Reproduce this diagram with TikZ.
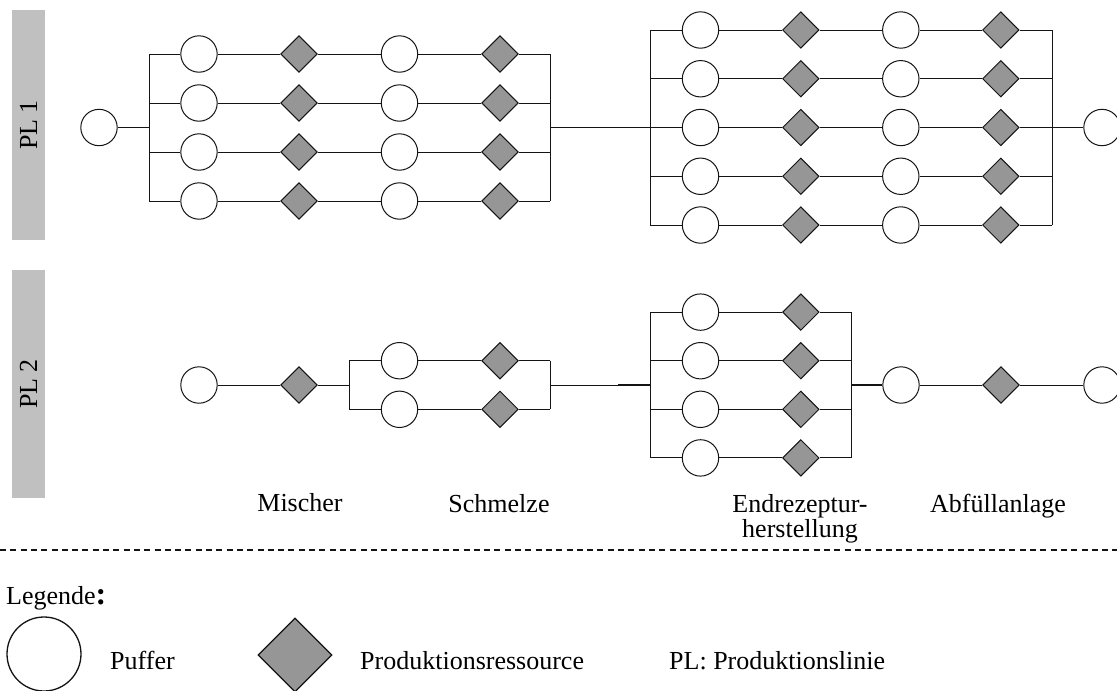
\documentclass[tikz,border=0pt]{standalone}
\usepackage{fontspec}
\setmainfont{Liberation Serif}
\usetikzlibrary{shapes.geometric}
\definecolor{barfill}{RGB}{192,192,192}
\definecolor{resfill}{RGB}{150,150,150}
\definecolor{edge}{RGB}{20,20,20}
\begin{document}
\begin{tikzpicture}[x=1pt,y=-1pt,
  puffer/.style={circle,draw=edge,line width=1pt,fill=white,minimum size=36.4pt,inner sep=0pt},
  ressource/.style={diamond,draw=edge,line width=1pt,fill=resfill,minimum size=36.6pt,inner sep=0pt},
  link/.style={draw=edge,line width=1pt},
  joint/.style={draw=edge,line width=1.8pt},
  lbl/.style={font=\fontsize{26}{25}\selectfont,inner sep=0pt},
  lane/.style={fill=barfill,draw=none,rotate=90,font=\fontsize{26}{25}\selectfont,
    minimum height=33pt,inner sep=0pt}]
\useasboundingbox (0,0) rectangle (1117,691);

% production line labels
\node[lane,minimum width=230pt] (pl1) at (28.5,125) {PL 1};
\node[lane,minimum width=228pt] (pl2) at (28.5,384) {PL 2};

% ---------------- PL 1 ----------------
\node[puffer] (p1in) at (99,127.5) {};
\coordinate (p1L) at (149,127.5);
\draw[joint] (p1in) -- (p1L);
\foreach \i/\y in {1/54,2/103,3/152,4/201} {
  \coordinate (p1Lb\i) at (149,\y);
  \node[puffer] (p1a\i) at (199,\y) {};
  \node[ressource] (p1b\i) at (299,\y) {};
  \node[puffer] (p1c\i) at (399.5,\y) {};
  \node[ressource] (p1d\i) at (500,\y) {};
  \coordinate (p1Rb\i) at (550,\y);
  \draw[link] (p1Lb\i) -- (p1a\i) -- (p1b\i) -- (p1c\i) -- (p1d\i) -- (p1Rb\i);
}
\draw[link] (p1Lb1) -- (p1Lb4);
\draw[link] (p1Rb1) -- (p1Rb4);
\coordinate (p1R) at (550,127.5);
\coordinate (p1M) at (618,127.5);
\coordinate (p1S) at (650,127.5);
\draw[link] (p1R) -- (p1M);
\draw[joint] (p1M) -- (p1S);
\foreach \i/\y in {1/30,2/78.75,3/127.5,4/176.25,5/225} {
  \coordinate (p1Sb\i) at (650,\y);
  \node[puffer] (p1e\i) at (700.5,\y) {};
  \node[ressource] (p1f\i) at (800.8,\y) {};
  \node[puffer] (p1g\i) at (900.8,\y) {};
  \node[ressource] (p1h\i) at (1000.8,\y) {};
  \coordinate (p1Tb\i) at (1052,\y);
  \draw[link] (p1Sb\i) -- (p1e\i) -- (p1f\i) -- (p1g\i) -- (p1h\i) -- (p1Tb\i);
}
\draw[link] (p1Sb1) -- (p1Sb5);
\draw[link] (p1Tb1) -- (p1Tb5);
\node[puffer] (p1out) at (1102,127.5) {};
\draw[joint] (p1Tb3) -- (p1out);

% ---------------- PL 2 ----------------
\node[puffer] (p2in) at (199,385) {};
\node[ressource] (p2m) at (299,385) {};
\coordinate (p2L) at (349,385);
\draw[link] (p2in) -- (p2m) -- (p2L);
\foreach \i/\y in {1/360.7,2/409.3} {
  \coordinate (p2Lb\i) at (349,\y);
  \node[puffer] (p2c\i) at (399.5,\y) {};
  \node[ressource] (p2d\i) at (500,\y) {};
  \coordinate (p2Rb\i) at (550,\y);
  \draw[link] (p2Lb\i) -- (p2c\i) -- (p2d\i) -- (p2Rb\i);
}
\draw[link] (p2Lb1) -- (p2Lb2);
\draw[link] (p2Rb1) -- (p2Rb2);
\coordinate (p2R) at (550,385);
\coordinate (p2M) at (618,385);
\coordinate (p2S) at (650,385);
\draw[link] (p2R) -- (p2M);
\draw[joint] (p2M) -- (p2S);
\foreach \i/\y in {1/312.1,2/360.7,3/409.3,4/457.9} {
  \coordinate (p2Sb\i) at (650,\y);
  \node[puffer] (p2e\i) at (700.5,\y) {};
  \node[ressource] (p2f\i) at (800.8,\y) {};
  \coordinate (p2Tb\i) at (851,\y);
  \draw[link] (p2Sb\i) -- (p2e\i) -- (p2f\i) -- (p2Tb\i);
}
\draw[link] (p2Sb1) -- (p2Sb4);
\draw[link] (p2Tb1) -- (p2Tb4);
\coordinate (p2T) at (851,385);
\node[puffer] (p2g) at (901,385) {};
\node[ressource] (p2h) at (1001,385) {};
\node[puffer] (p2out) at (1102,385) {};
\draw[joint] (p2T) -- (p2g);
\draw[link] (p2g) -- (p2h) -- (p2out);

% stage names (the two-line label is anchored on its last baseline)
\node[lbl,anchor=base] (tMix) at (300,511) {Mischer};
\node[lbl,anchor=base] (tMelt) at (499,512) {Schmelze};
\node[lbl,anchor=base,align=center] (tRec) at (800,537) {Endrezeptur-\\herstellung};
\node[lbl,anchor=base] (tFill) at (998,512) {Abfüllanlage};

% separator
\coordinate (sepL) at (0,550);
\coordinate (sepR) at (1117,550);
\draw[edge,line width=1.3pt,dash pattern=on 6pt off 4.3pt] (sepL) -- (sepR);

% legend
\node[lbl,anchor=base west] (leg) at (6,604) {Legende{\bfseries\fontsize{32}{32}\selectfont :}};
\node[puffer,minimum size=74pt,line width=1.3pt] (legP) at (44,654) {};
\node[lbl,anchor=base west] (legPt) at (110,669) {Puffer};
\node[ressource,minimum size=74pt,line width=1.3pt] (legR) at (295,655) {};
\node[lbl,anchor=base west] (legRt) at (360,669) {Produktionsressource};
\node[lbl,anchor=base west] (legL) at (669,669) {PL: Produktionslinie};
\end{tikzpicture}
\end{document}
